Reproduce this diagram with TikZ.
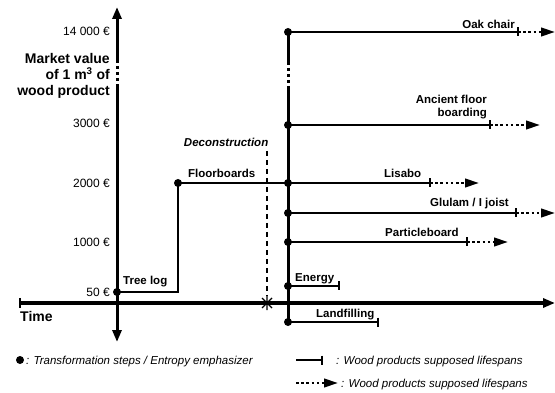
\documentclass[tikz,border=0pt]{standalone}
\usepackage{fontspec}
\setmainfont{Liberation Sans}
\usetikzlibrary{arrows.meta}
\tikzset{
  axisline/.style={line width=3pt},
  branch/.style={line width=2.6pt},
  dotseg/.style={line width=2.6pt, dash pattern=on 2.6pt off 2.6pt, -{Triangle[length=14pt,width=8.5pt]}},
  tickline/.style={line width=2.6pt},
  dotn/.style={circle, fill=black, inner sep=0pt, minimum size=8pt},
  lbl/.style={font=\fontsize{11.5}{13}\selectfont\bfseries, inner sep=0pt},
  vlbl/.style={font=\fontsize{12}{14}\selectfont, inner sep=0pt, anchor=base east},
  leg/.style={font=\fontsize{11.5}{13}\selectfont\itshape, inner sep=0pt, anchor=base west},
}
\newcommand{\tickat}[1]{\draw[tickline] ([yshift=4.5pt]#1) -- ([yshift=-4.5pt]#1);}
\begin{document}
\begin{tikzpicture}[x=1pt,y=-1pt]
\useasboundingbox (0,0) rectangle (555,393);
% value axis
\coordinate (vtop) at (117,7);
\coordinate (vbot) at (117,342);
\coordinate (vb1) at (117,87);
\coordinate (vb2) at (117,60);
\draw[axisline] (vb1) -- (117,330);
\draw[axisline,-{Triangle[length=12pt,width=9pt]}] (117,300) -- (vbot);
\draw[axisline,-{Triangle[length=12pt,width=9pt]}] (vb2) -- (vtop);
\draw[axisline, dash pattern=on 3pt off 3pt] (vb2) -- (vb1);
% time axis
\coordinate (tl) at (20,303);
\coordinate (tr) at (555,303);
\draw[axisline,-{Triangle[length=12pt,width=9pt]}] (tl) -- (tr);
\draw[tickline] (20,298) -- (20,308);
\node[font=\fontsize{14}{16}\selectfont\bfseries, inner sep=0pt, anchor=base west] (time) at (20,322) {Time};
% value labels
\node[vlbl] (v14000) at (110,36) {14 000 €};
\node[vlbl] (v3000) at (110,128) {3000 €};
\node[vlbl] (v2000) at (110,188) {2000 €};
\node[vlbl] (v1000) at (110,247) {1000 €};
\node[vlbl] (v50) at (110,297) {50 €};
\node[font=\fontsize{14}{16}\selectfont\bfseries, inner sep=0pt, align=right, anchor=base east] (mv) at (110,96)
  {Market value\\of 1 m\textsuperscript{3} of\\wood product};
% tree log path
\node[dotn] (dlog) at (117,292) {};
\node[dotn] (dfloor) at (178,183) {};
\coordinate (corner) at (178,292);
\draw[branch] (dlog.center) -- (corner) -- (dfloor.center);
\node[lbl, anchor=base west] (treelog) at (123,285) {Tree log};
\node[lbl, anchor=base west] (floorb) at (188,178) {Floorboards};
% deconstruction
\coordinate (dectop) at (267,151);
\coordinate (decx) at (267,303);
\draw[line width=1.6pt, dash pattern=on 5pt off 4pt] (dectop) -- (267,296);
\draw[line width=1.2pt] (267,296) -- (267,310) (262,298) -- (272,308) (262,308) -- (272,298);
\node[lbl, font=\fontsize{11.5}{13}\selectfont\bfseries\itshape, anchor=base east] (decon) at (268.5,147) {Deconstruction};
% second axis
\node[dotn] (dOak) at (288,32) {};
\node[dotn] (dAnc) at (288,125) {};
\node[dotn] (dLis) at (288,183) {};
\node[dotn] (dGlu) at (288,213) {};
\node[dotn] (dPar) at (288,242) {};
\node[dotn] (dEne) at (288,286) {};
\node[dotn] (dLan) at (288,322) {};
\coordinate (sb1) at (288,62);
\coordinate (sb2) at (288,88);
\draw[axisline] (dOak.center) -- (sb1);
\draw[axisline, dash pattern=on 3pt off 3pt] (sb1) -- (sb2);
\draw[axisline] (sb2) -- (dLan.center);
\draw[branch] (dfloor.center) -- (dLis.center);
% branches
\coordinate (tOak) at (518,32);  \coordinate (aOak) at (555,32);
\coordinate (tAnc) at (490,125); \coordinate (aAnc) at (540,125);
\coordinate (tLis) at (430,183); \coordinate (aLis) at (479,183);
\coordinate (tGlu) at (516,213); \coordinate (aGlu) at (555,213);
\coordinate (tPar) at (467,242); \coordinate (aPar) at (508,242);
\coordinate (tEne) at (339,286);
\coordinate (tLan) at (378,322);
\foreach \n in {Oak,Anc,Lis,Glu,Par}{
  \draw[branch] (d\n.center) -- (t\n);
  \tickat{t\n}
  \draw[dotseg] (t\n) -- (a\n);
}
\foreach \n in {Ene,Lan}{
  \draw[branch] (d\n.center) -- (t\n);
  \tickat{t\n}
}
\node[lbl, anchor=base east] (lOak) at (515,29) {Oak chair};
\node[lbl, anchor=base east, align=right] (lAnc) at (487,117) {Ancient floor\\boarding};
\node[lbl, anchor=base west] (lLis) at (384,178) {Lisabo};
\node[lbl, anchor=base east] (lGlu) at (509,207) {Glulam / I joist};
\node[lbl, anchor=base west] (lPar) at (385,237) {Particleboard};
\node[lbl, anchor=base west] (lEne) at (295,282) {Energy};
\node[lbl, anchor=base west] (lLan) at (316,317) {Landfilling};
% legend
\node[dotn] (legdot) at (20,360) {};
\node[leg] (legt1) at (26,364) {: Transformation steps / Entropy emphasizer};
\coordinate (lg1a) at (296,360); \coordinate (lg1b) at (322,360);
\draw[branch] (lg1a) -- (lg1b);
\tickat{lg1b}
\node[leg] (legt2) at (336,364) {: Wood products supposed lifespans};
\coordinate (lg2a) at (296,383); \coordinate (lg2b) at (338,383);
\draw[dotseg] (lg2a) -- (lg2b);
\node[leg] (legt3) at (341,387) {: Wood products supposed lifespans};
\end{tikzpicture}
\end{document}
